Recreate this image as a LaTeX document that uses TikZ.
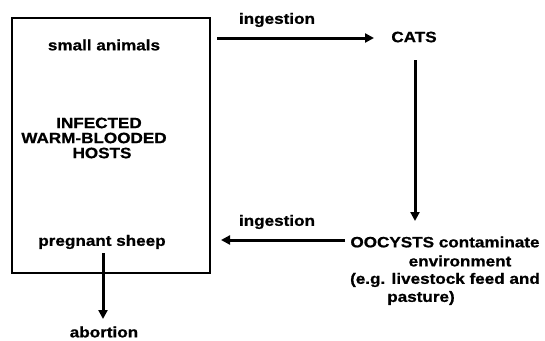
\documentclass[tikz,border=0pt]{standalone}
\usepackage{fontspec}
\setmainfont[FakeStretch=1.14,FakeBold=0.8]{Liberation Sans}
\usetikzlibrary{arrows.meta}
\begin{document}
\begin{tikzpicture}[x=1pt,y=-1pt,
  lbl/.style={font=\fontsize{15}{16}\selectfont\bfseries, inner sep=0pt, anchor=center},
  hostbox/.style={draw, line width=1.5pt, minimum width=198pt, minimum height=255pt, inner sep=0pt},
  flow/.style={line width=3pt, -{Triangle[length=9pt,width=9pt]}}]
\useasboundingbox (0,0) rectangle (545,340);
\node[hostbox] (hosts) at (111,145.5) {};
\node[lbl] (sa) at (104,45) {small animals};
\node[lbl] (inf1) at (99,123) {INFECTED};
\node[lbl] (inf2) at (94,138) {WARM-BLOODED};
\node[lbl] (inf3) at (102,153) {HOSTS};
\node[lbl] (ps) at (102,242) {pregnant sheep};
\node[lbl] (ab) at (104,332) {abortion};
\node[lbl] (ing1) at (277,20) {ingestion};
\node[lbl] (cats) at (414,37) {CATS};
\node[lbl] (ing2) at (277,222) {ingestion};
\node[lbl] (oo1) at (445,242) {OOCYSTS contaminate};
\node[lbl] (oo2) at (460,261) {environment};
\node[lbl] (oo3) at (445,280) {(e.g. livestock feed and};
\node[lbl] (oo4) at (421,298) {pasture)};
\coordinate (a1s) at (217,38);
\coordinate (a1e) at (374,38);
\coordinate (a2s) at (415,60);
\coordinate (a2e) at (415,221);
\coordinate (a3s) at (345,240);
\coordinate (a3e) at (221,240);
\coordinate (a4s) at (103,253);
\coordinate (a4e) at (103,319);
\draw[flow] (a1s) -- (a1e);
\draw[flow] (a2s) -- (a2e);
\draw[flow] (a3s) -- (a3e);
\draw[flow] (a4s) -- (a4e);
\end{tikzpicture}
\end{document}
